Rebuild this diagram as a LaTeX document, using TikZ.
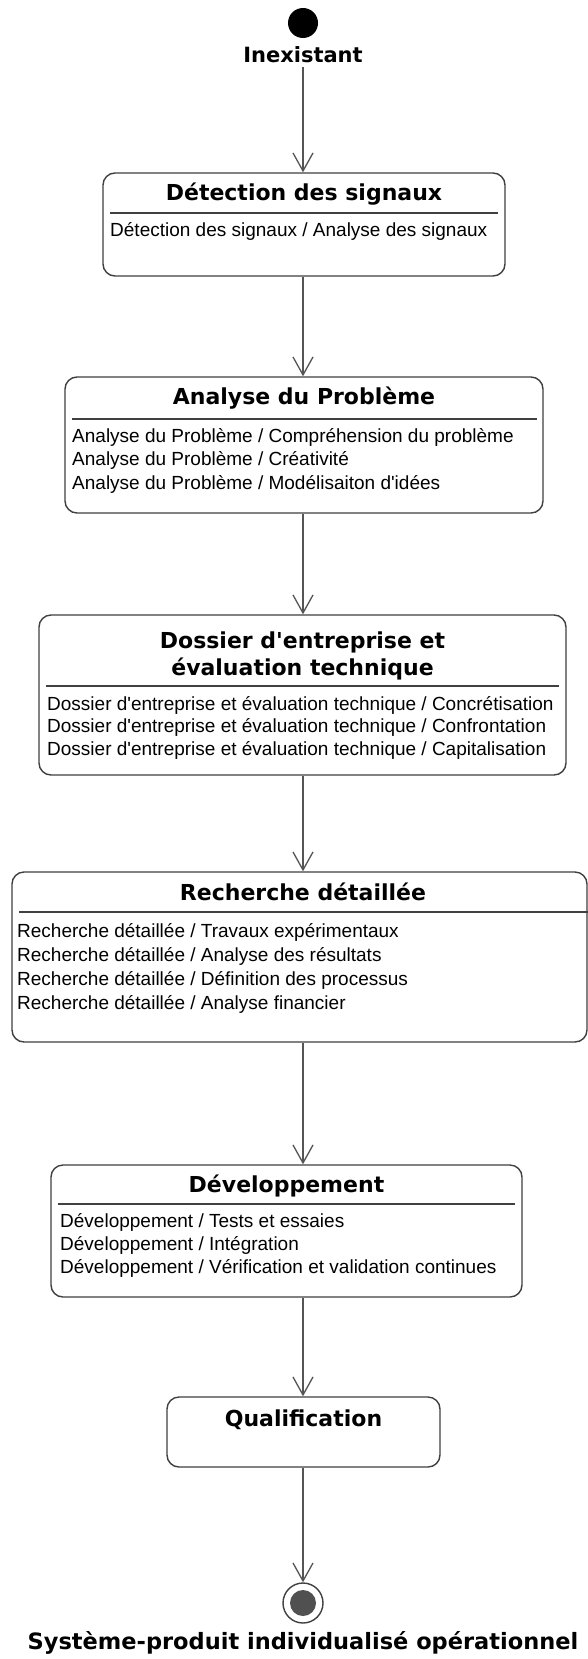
\documentclass[tikz,border=0pt]{standalone}
\usepackage{fontspec}
\setmainfont{Liberation Sans}
\newfontfamily\bodyfont{Liberation Sans}
\newfontfamily\titlefont{DejaVu Sans}
\usetikzlibrary{arrows.meta}
\definecolor{boxgray}{HTML}{404040}
\definecolor{linegray}{HTML}{555555}
\definecolor{dotgray}{HTML}{505050}
\tikzset{
  statebox/.style={draw=boxgray, line width=1.4pt, rounded corners=12pt, fill=white, inner sep=0pt},
  titletext/.style={font=\titlefont\bfseries\fontsize{22}{24}\selectfont, inner sep=0pt, anchor=base},
  bodytext/.style={font=\bodyfont\fontsize{19}{22}\selectfont, inner sep=0pt, anchor=base west},
  trans/.style={draw=linegray, line width=1.3pt, -{Straight Barb[length=18pt,width=20pt]}},
  sepline/.style={draw=boxgray, line width=1.4pt},
}
\begin{document}
\begin{tikzpicture}[x=1pt,y=-1pt]
\useasboundingbox[fill=white] (0,0) rectangle (588,1659);

% initial state
\node[circle, fill=black, minimum size=30pt, inner sep=0pt] (init) at (303,23) {};
\node[titletext, font=\titlefont\bfseries\fontsize{21}{24}\selectfont] (inex) at (303,62.5) {Inexistant};

% box 1
\node[statebox, minimum width=402pt, minimum height=103pt] (b1) at (304,224.5) {};
\node[titletext] (t1) at (304,200.5) {Détection des signaux};
\draw[sepline] (110,213) -- (498,213);
\node[bodytext] (l11) at (110,236.8) {Détection des signaux / Analyse des signaux};

% box 2
\node[statebox, minimum width=478pt, minimum height=136pt] (b2) at (304,445) {};
\node[titletext] (t2) at (304,404.5) {Analyse du Problème};
\draw[sepline] (72,419) -- (537,419);
\node[bodytext] (l21) at (72,442) {Analyse du Problème / Compréhension du problème};
\node[bodytext] (l22) at (72,465.5) {Analyse du Problème / Créativité};
\node[bodytext] (l23) at (72,489) {Analyse du Problème / Modélisaiton d'idées};

% box 3
\node[statebox, minimum width=527pt, minimum height=160pt] (b3) at (302.5,695) {};
\node[titletext] (t3a) at (302.5,648) {Dossier d'entreprise et};
\node[titletext] (t3b) at (302.5,675) {évaluation technique};
\draw[sepline] (46,686) -- (559,686);
\node[bodytext] (l31) at (47,710) {Dossier d'entreprise et évaluation technique / Concrétisation};
\node[bodytext] (l32) at (47,732.5) {Dossier d'entreprise et évaluation technique / Confrontation};
\node[bodytext] (l33) at (47,755) {Dossier d'entreprise et évaluation technique / Capitalisation};

% box 4
\node[statebox, minimum width=575pt, minimum height=170pt] (b4) at (299.5,957) {};
\node[titletext] (t4) at (303,900.5) {Recherche détaillée};
\draw[sepline] (19,912) -- (588,912);
\node[bodytext] (l41) at (17,937) {Recherche détaillée / Travaux expérimentaux};
\node[bodytext] (l42) at (17,961) {Recherche détaillée / Analyse des résultats};
\node[bodytext] (l43) at (17,985) {Recherche détaillée / Définition des processus};
\node[bodytext] (l44) at (17,1009) {Recherche détaillée / Analyse financier};

% box 5
\node[statebox, minimum width=471pt, minimum height=132pt] (b5) at (286.5,1231) {};
\node[titletext] (t5) at (286.5,1192) {Développement};
\draw[sepline] (58,1204) -- (515,1204);
\node[bodytext] (l51) at (60,1227) {Développement / Tests et essaies};
\node[bodytext] (l52) at (60,1250) {Développement / Intégration};
\node[bodytext] (l53) at (60,1273) {Développement / Vérification et validation continues};

% box 6
\node[statebox, minimum width=273pt, minimum height=70pt] (b6) at (303.5,1432) {};
\node[titletext] (t6) at (303.5,1426.5) {Qualification};

% final state
\node[circle, draw=boxgray, line width=1.4pt, fill=white, minimum size=40pt, inner sep=0pt] (fin) at (303,1603) {};
\node[circle, fill=dotgray, minimum size=26pt, inner sep=0pt] (fincore) at (fin) {};
\node[titletext, font=\titlefont\bfseries\fontsize{22.5}{24}\selectfont] (finlabel) at (303,1649.5) {Système-produit individualisé opérationnel};

% transitions
\draw[trans] ([yshift=-4pt]inex.south) -- (b1.north -| init);
\draw[trans] (b1.south -| init) -- (b2.north -| init);
\draw[trans] (b2.south -| init) -- (b3.north -| init);
\draw[trans] (b3.south -| init) -- (b4.north -| init);
\draw[trans] (b4.south -| init) -- (b5.north -| init);
\draw[trans] (b5.south -| init) -- (b6.north -| init);
\draw[trans] (b6.south -| init) -- (fin.north);
\end{tikzpicture}
\end{document}
